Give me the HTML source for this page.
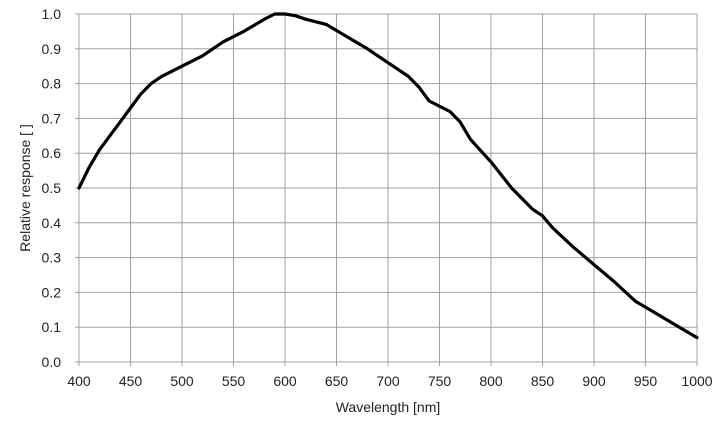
<!DOCTYPE html>
<html><head><meta charset="utf-8"><style>
body{margin:0;background:#fff;}
svg{display:block;font-family:"Liberation Sans",Arial,sans-serif;}
</style></head><body>
<svg id="chart" width="726" height="424"></svg>
<script>
const wavelengths=[400,410,420,440,460,470,480,500,520,540,560,580,590,600,610,620,640,660,680,700,720,730,740,760,770,780,800,820,840,850,860,880,900,920,940,960,980,1000];
const response=[0.50,0.56,0.61,0.69,0.77,0.80,0.82,0.85,0.88,0.92,0.95,0.985,1.0,1.0,0.995,0.985,0.97,0.935,0.9,0.86,0.82,0.79,0.75,0.72,0.69,0.64,0.575,0.5,0.44,0.42,0.385,0.33,0.28,0.23,0.175,0.14,0.105,0.07];
const xTicks=[400,450,500,550,600,650,700,750,800,850,900,950,1000];
const yTicks=[0,0.1,0.2,0.3,0.4,0.5,0.6,0.7,0.8,0.9,1.0];
const L=79,R=697,T=14,B=362;
const X=v=>L+(v-400)/600*(R-L);
const Y=v=>B-v*(B-T);
const svg=document.getElementById('chart');
const NS='http://www.w3.org/2000/svg';
function mk(t,a,txt){const e=document.createElementNS(NS,t);for(const k in a)e.setAttribute(k,a[k]);if(txt!==undefined)e.textContent=txt;svg.appendChild(e);return e;}
xTicks.forEach(v=>{
 const g=mk('line',{x1:X(v),x2:X(v),y1:T,y2:B+4,stroke:'#a0a0a0','stroke-width':1});
 
 
 const t=mk('text',{x:X(v),y:386,'text-anchor':'middle','font-size':14,fill:'#222'},String(v));
 
 
});
yTicks.forEach(v=>{
 const g=mk('line',{x1:L-4,x2:R,y1:Y(v),y2:Y(v),stroke:'#a0a0a0','stroke-width':1});
 
 
 const t=mk('text',{x:61,y:Y(v)+5,'text-anchor':'end','font-size':14,fill:'#222'},v.toFixed(1));
 
 
});
const d=wavelengths.map((w,i)=>(i?'L':'M')+X(w).toFixed(1)+','+Y(response[i]).toFixed(1)).join(' ');
const p=mk('path',{d:d,fill:'none',stroke:'#000','stroke-width':3.2,'stroke-linejoin':'round','stroke-linecap':'round'});


const xt=mk('text',{x:388,y:412,'text-anchor':'middle','font-size':14,fill:'#222'},'Wavelength [nm]');


const yt=mk('text',{x:0,y:0,'text-anchor':'middle','font-size':14,fill:'#222',transform:'translate(30,188) rotate(-90)'},'Relative response [ ]');


</script>
</body></html>
